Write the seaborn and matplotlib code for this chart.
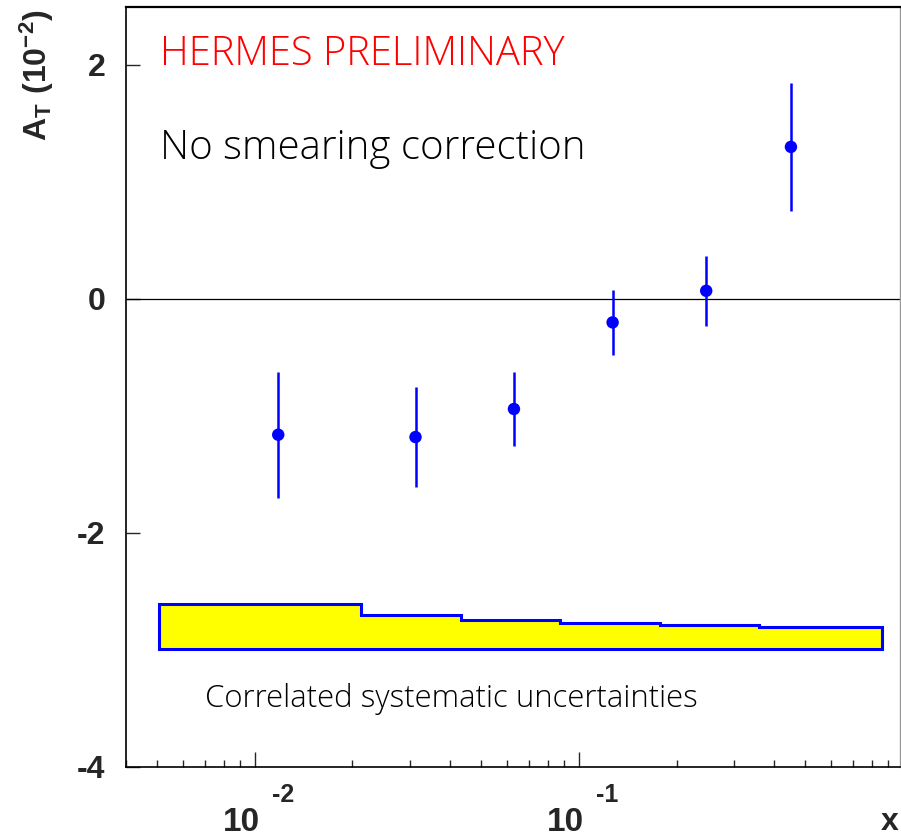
import matplotlib
matplotlib.use('Agg')
import matplotlib.pyplot as plt
from matplotlib.ticker import LogLocator, NullFormatter
import numpy as np
import seaborn as sns

# asymmetry points
x_vals = [0.0118, 0.0313, 0.063, 0.127, 0.247, 0.451]
at_vals = [-1.16, -1.18, -0.94, -0.20, 0.07, 1.30]
at_err = [0.54, 0.43, 0.32, 0.28, 0.30, 0.55]

# correlated systematic band: bin edges and top of band
sys_edges = [0.00507, 0.0212, 0.0431, 0.0873, 0.178, 0.360, 0.86]
sys_top = [-2.605, -2.70, -2.74, -2.767, -2.788, -2.805]
sys_bottom = -2.99

y_ticks = [-4, -2, 0, 2]
x_decades = [0.01, 0.1]
x_exps = ['-2', '-1']

sns.set_style('ticks')
plt.rcParams['font.family'] = ['Liberation Sans', 'DejaVu Sans']
plt.rcParams['mathtext.fontset'] = 'custom'
plt.rcParams['mathtext.bf'] = 'Liberation Sans:bold'
plt.rcParams['mathtext.rm'] = 'Liberation Sans:bold'
plt.rcParams['mathtext.it'] = 'Liberation Sans:bold'

fig = plt.figure(figsize=(9.01, 8.39), dpi=100)
ax = fig.add_axes([126 / 901, 72 / 839, 774 / 901, 760.5 / 839])

# systematic band
xs = list(np.repeat(sys_edges, 2)[1:-1]) + [sys_edges[-1], sys_edges[0]]
ys = list(np.repeat(sys_top, 2)) + [sys_bottom, sys_bottom]
ax.fill(xs, ys, facecolor='#ffff00', edgecolor='#0000ff', linewidth=2.2, zorder=2)

ax.axhline(0, color='black', lw=0.9, zorder=1)

# points with error bars
ax.errorbar(x_vals, at_vals, yerr=at_err, fmt='none', ecolor='#0000ff',
            elinewidth=1.8, capsize=0, zorder=3)
sns.scatterplot(x=x_vals, y=at_vals, color='#0000ff', s=80, edgecolor='none',
                zorder=4, ax=ax)

ax.set_xscale('log')
ax.set_xlim(0.004, 0.979)
ax.set_ylim(-4, 2.5)

# ticks
ax.set_yticks(y_ticks)
ax.set_yticklabels([str(t) for t in y_ticks], fontsize=23, fontweight='bold')
ax.tick_params(axis='y', direction='in', length=10, width=1, pad=15)
ax.set_xticks(x_decades)
ax.set_xticklabels(['', ''])
ax.xaxis.set_minor_locator(LogLocator(base=10, subs=np.arange(2, 10)))
ax.xaxis.set_minor_formatter(NullFormatter())
ax.tick_params(axis='x', which='major', direction='in', length=10.8, width=1)
ax.tick_params(axis='x', which='minor', direction='in', length=5.4, width=1)

for xd, ex in zip(x_decades, x_exps):
    ax.annotate('10', xy=(xd, 0), xycoords=('data', 'axes fraction'),
                xytext=(5, -64), textcoords='offset pixels', ha='right',
                va='baseline', fontsize=24, fontweight='bold')
    ax.annotate(ex, xy=(xd, 0), xycoords=('data', 'axes fraction'),
                xytext=(17, -40), textcoords='offset pixels', ha='left',
                va='bottom', fontsize=18, fontweight='bold')

for side in ['left', 'bottom']:
    ax.spines[side].set_color('black')
    ax.spines[side].set_linewidth(1.2)
ax.spines['top'].set_color('black')
ax.spines['top'].set_linewidth(1.6)
ax.spines['right'].set_color('#999999')
ax.spines['right'].set_linewidth(1)

# labels
fig.text(890 / 901, 1 - 830 / 839, 'x', ha='center', va='baseline',
         fontsize=23, fontweight='bold')
fig.text(37 / 901, 1 - 10 / 839, r'$\mathbf{A_T\ (10^{-2})}$', rotation=90,
         ha='center', va='top', fontsize=23)

# annotations
ax.text(0.0051, 2.0, 'HERMES PRELIMINARY', color='#ff0000', fontsize=28.8,
        family='Open Sans', fontweight='light', va='baseline')
ax.text(0.0051, 1.195, 'No smearing correction', color='black', fontsize=29,
        family='Open Sans', fontweight='light', va='baseline')
ax.text(0.00702, -3.49, 'Correlated systematic uncertainties', color='black',
        fontsize=22.4, family='Open Sans', fontweight='light', va='baseline')

fig.savefig('out.png', dpi=100, facecolor='white')
